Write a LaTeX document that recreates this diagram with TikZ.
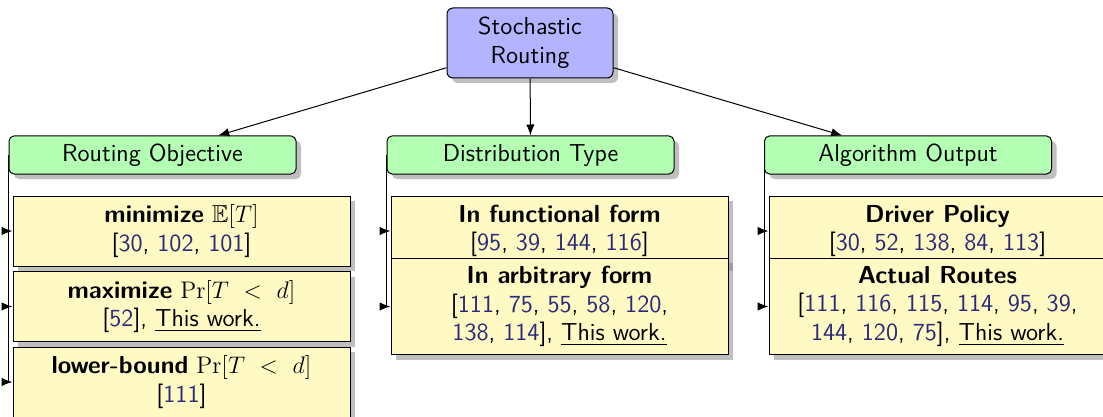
\documentclass[tikz,border=0pt]{standalone}
\usepackage{amssymb}
\usetikzlibrary{shadows,arrows.meta}
\definecolor{citeblue}{RGB}{42,42,122}
\definecolor{rootblue}{RGB}{179,179,255}
\definecolor{catgreen}{RGB}{179,255,179}
\definecolor{leafyellow}{RGB}{255,249,196}
\newcommand{\cit}[1]{\textcolor{citeblue}{#1}}
\tikzset{
  shadowed/.style={drop shadow={shadow xshift=2.5pt,shadow yshift=-2.5pt}},
  rootbox/.style={draw, line width=0.5pt, fill=rootblue, rounded corners=3pt,
    minimum width=83pt, minimum height=35pt, align=center, shadowed},
  catbox/.style={draw, line width=0.5pt, fill=catgreen, rounded corners=2.5pt,
    minimum width=143.5pt, minimum height=19pt, shadowed},
  leafbox/.style={draw, line width=0.5pt, fill=leafyellow, minimum width=168.5pt,
    minimum height=35pt, align=center, inner sep=4pt, shadowed},
  link/.style={-{Latex[length=5.5pt,width=4.2pt]}, line width=0.5pt},
}
\begin{document}
\begin{tikzpicture}[x=0.5pt, y=-0.5pt, font=\sffamily\fontsize{12.3}{14.3}\selectfont]
\useasboundingbox (0,0) rectangle (1103,417);

% root and categories
\node[rootbox] (root) at (530,43) {Stochastic\\Routing};
\node[catbox] (obj)  at (152.5,155) {Routing Objective};
\node[catbox] (dist) at (530.5,155) {Distribution Type};
\node[catbox] (out)  at (908,155)   {Algorithm Output};

% routing objective leaves
\node[leafbox] (obj1) at (181.5,231)
  {\textbf{minimize} $\mathbb{E}[T]$\\{}[\cit{30}, \cit{102}, \cit{101}]};
\node[leafbox] (obj2) at (181.5,306.5)
  {\textbf{maximize} $\Pr[T\ <\ d]$\\{}[\cit{52}], \underline{This work.}};
\node[leafbox] (obj3) at (181.5,382)
  {\textbf{lower-bound} $\Pr[T\ <\ d]$\\{}[\cit{111}]};

% distribution type leaves
\node[leafbox] (dist1) at (559.5,231)
  {\textbf{In functional form}\\{}[\cit{95}, \cit{39}, \cit{144}, \cit{116}]};
\node[leafbox] (dist2) at (559.5,306.5)
  {\textbf{In arbitrary form}\\{}[\cit{111}, \cit{75}, \cit{55}, \cit{58}, \cit{120},\\
   \cit{138}, \cit{114}], \underline{This work.}};

% algorithm output leaves
\node[leafbox] (out1) at (937.5,231)
  {\textbf{Driver Policy}\\{}[\cit{30}, \cit{52}, \cit{138}, \cit{84}, \cit{113}]};
\node[leafbox] (out2) at (937.5,306.5)
  {\textbf{Actual Routes}\\{}[\cit{111}, \cit{116}, \cit{115}, \cit{114}, \cit{95}, \cit{39},\\
   \cit{144}, \cit{120}, \cit{75}], \underline{This work.}};

% connectors
\draw[link] (root) -- (obj);
\draw[link] (root) -- (dist);
\draw[link] (root) -- (out);
\draw[link] (obj.west) |- (obj1.west);
\draw[link] (obj.west) |- (obj2.west);
\draw[link] (obj.west) |- (obj3.west);
\draw[link] (dist.west) |- (dist1.west);
\draw[link] (dist.west) |- (dist2.west);
\draw[link] (out.west) |- (out1.west);
\draw[link] (out.west) |- (out2.west);
\end{tikzpicture}
\end{document}
